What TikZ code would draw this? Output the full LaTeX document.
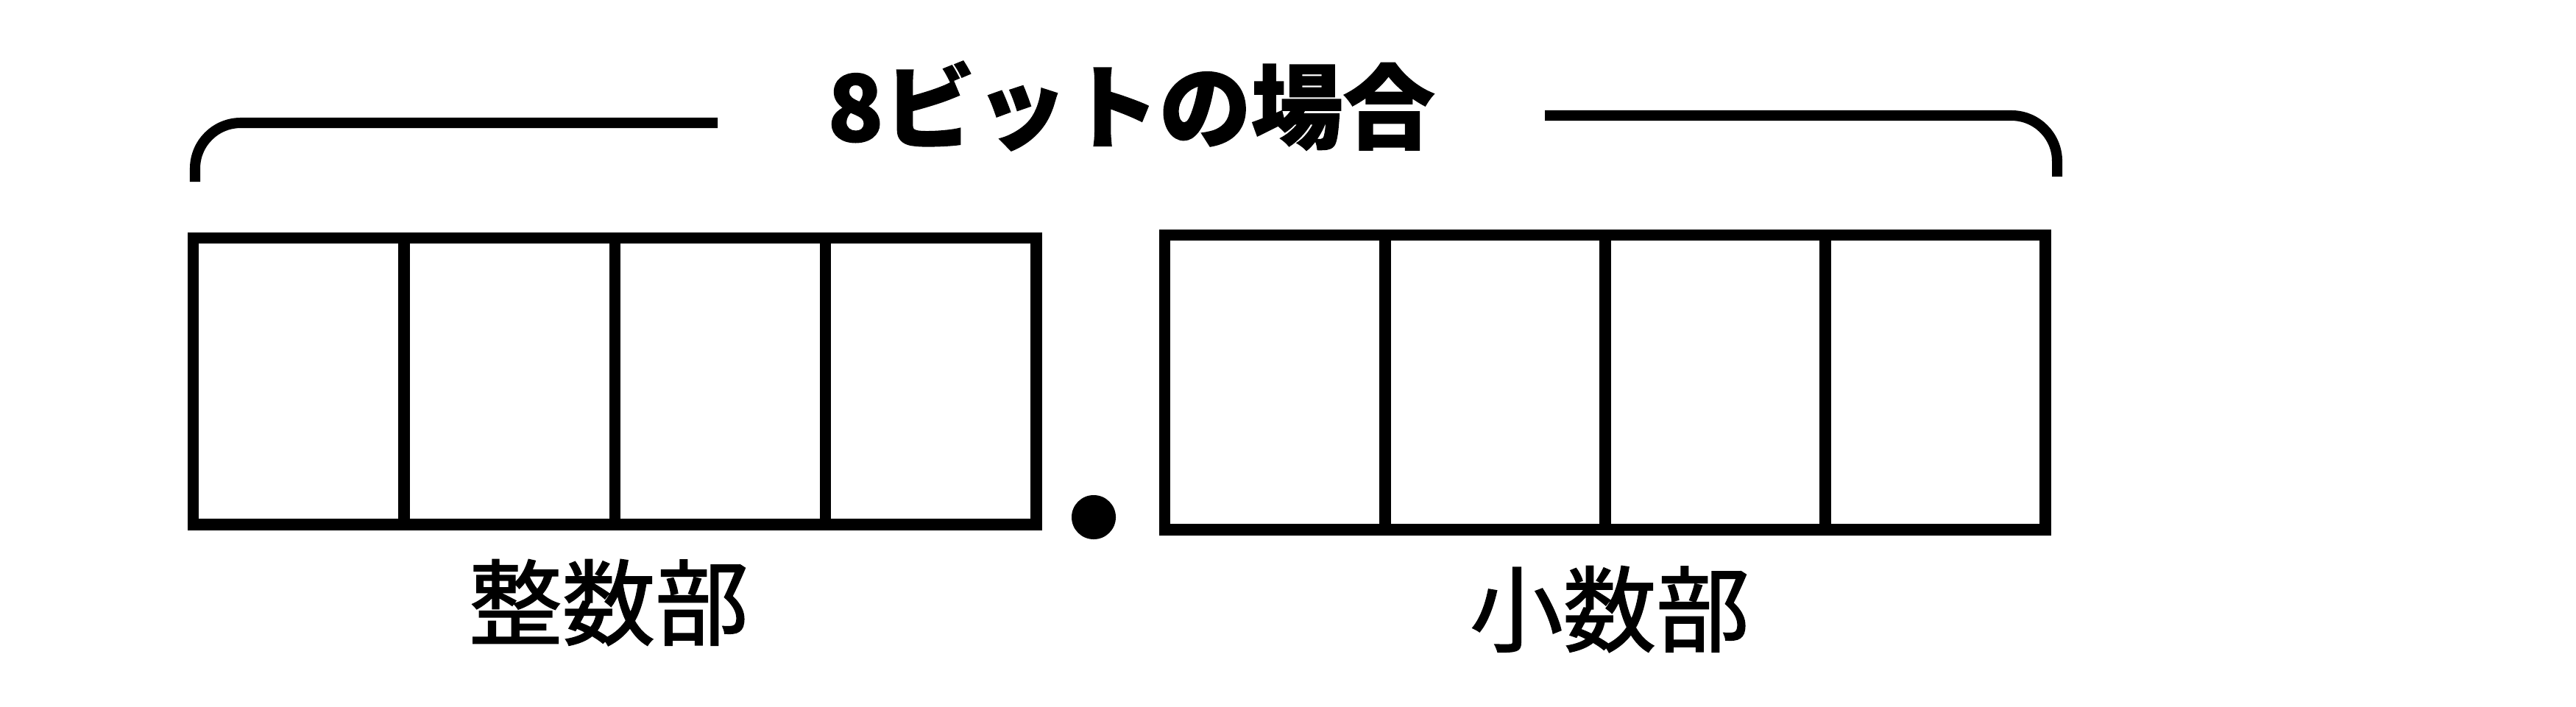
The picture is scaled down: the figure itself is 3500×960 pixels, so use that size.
\documentclass[tikz,border=0pt]{standalone}
\usepackage{fontspec}
\newfontfamily\jp[BoldFeatures={FakeBold=1.2}]{Noto Sans CJK JP}
\newfontfamily\jpmed[FakeBold=1.5]{Noto Sans CJK JP}
\begin{document}
\begin{tikzpicture}[x=0.01cm,y=-0.01cm,
  cellL/.style={draw, line width=4.4pt, minimum width=2.8625cm, minimum height=3.89cm, inner sep=0pt, anchor=north west},
  cellR/.style={draw, line width=4.4pt, minimum width=2.99cm, minimum height=4.0cm, inner sep=0pt, anchor=north west},
  brace/.style={line width=4pt, rounded corners=0.62cm},
  titletext/.style={font=\jp\bfseries\fontsize{35.5}{40}\selectfont, anchor=base, inner sep=0pt},
  labeltext/.style={font=\jpmed\fontsize{36}{40}\selectfont, anchor=base, inner sep=0pt}]
\useasboundingbox (0,0) rectangle (3500,960);
\foreach \i in {0,...,3} { \node[cellL] (L\i) at (255+\i*286.25, 316) {}; }
\foreach \i in {0,...,3} { \node[cellR] (R\i) at (1575+\i*299, 312) {}; }
\node[circle, fill, minimum size=0.6cm, inner sep=0pt] (dot) at (1486,703) {};
\coordinate (bl1) at (265,247);
\coordinate (bl2) at (975,167);
\coordinate (br1) at (2099,157);
\coordinate (br2) at (2795,240);
\draw[brace] (bl1) |- (bl2);
\draw[brace] (br1) -| (br2);
\node[titletext] (ttl) at (1537,192) {8ビットの場合};
\node[labeltext] (intpart) at (827,867) {整数部};
\node[labeltext] (fracpart) at (2187,876) {小数部};
\end{tikzpicture}
\end{document}
